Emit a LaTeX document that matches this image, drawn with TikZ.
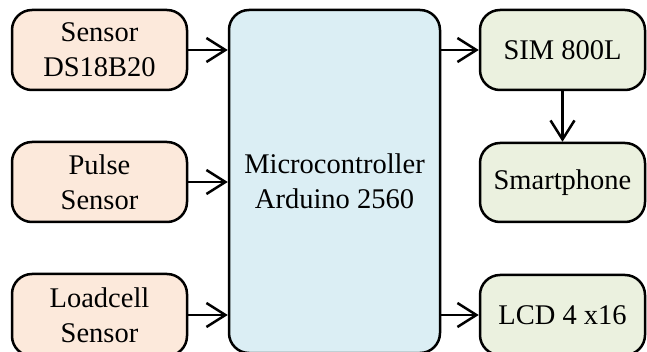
\documentclass[tikz,border=0pt]{standalone}
\usepackage{fontspec}
\setmainfont{Liberation Serif}
\usetikzlibrary{arrows.meta}
\definecolor{peach}{HTML}{FCE9DB}
\definecolor{lblue}{HTML}{DBEEF4}
\definecolor{lgreen}{HTML}{EBF1DF}
\tikzset{
  blk/.style={draw=black, line width=2.5pt, rounded corners=20pt, align=center, inner sep=0pt,
    font=\fontsize{28.5}{35}\selectfont},
  inbox/.style={blk, fill=peach, minimum width=175pt, minimum height=80pt},
  outbox/.style={blk, fill=lgreen, minimum width=165pt, minimum height=80pt},
  mcbox/.style={blk, fill=lblue, minimum width=211pt, minimum height=343pt},
  arr/.style={line width=2.5pt, -{Straight Barb[length=19pt, width=24pt, line width=2.5pt]}}
}
\begin{document}
\begin{tikzpicture}[x=1pt, y=-1pt]
\useasboundingbox (0,0) rectangle (647,352);
\node[inbox] (s1) at (99.5,50) {Sensor\\DS18B20};
\node[inbox] (s2) at (99.5,182) {Pulse\\Sensor};
\node[inbox, minimum height=82pt] (s3) at (99.5,315) {Loadcell\\Sensor};
\node[mcbox] (mc) at (334.5,181.5) {Microcontroller\\Arduino 2560};
\node[outbox] (sim) at (562.5,50) {SIM 800L};
\node[outbox, minimum height=79pt] (sp) at (562.5,182.5) {Smartphone};
\node[outbox] (lcd) at (562.5,315) {LCD 4 x16};
\draw[arr] (s1.east) -- (s1.east -| mc.west);
\draw[arr] (s2.east) -- (s2.east -| mc.west);
\draw[arr] (s3.east) -- (s3.east -| mc.west);
\draw[arr] (sim.west -| mc.east) -- (sim.west);
\draw[arr] (lcd.west -| mc.east) -- (lcd.west);
\draw[arr] (sim.south) -- (sp.north);
\end{tikzpicture}
\end{document}
